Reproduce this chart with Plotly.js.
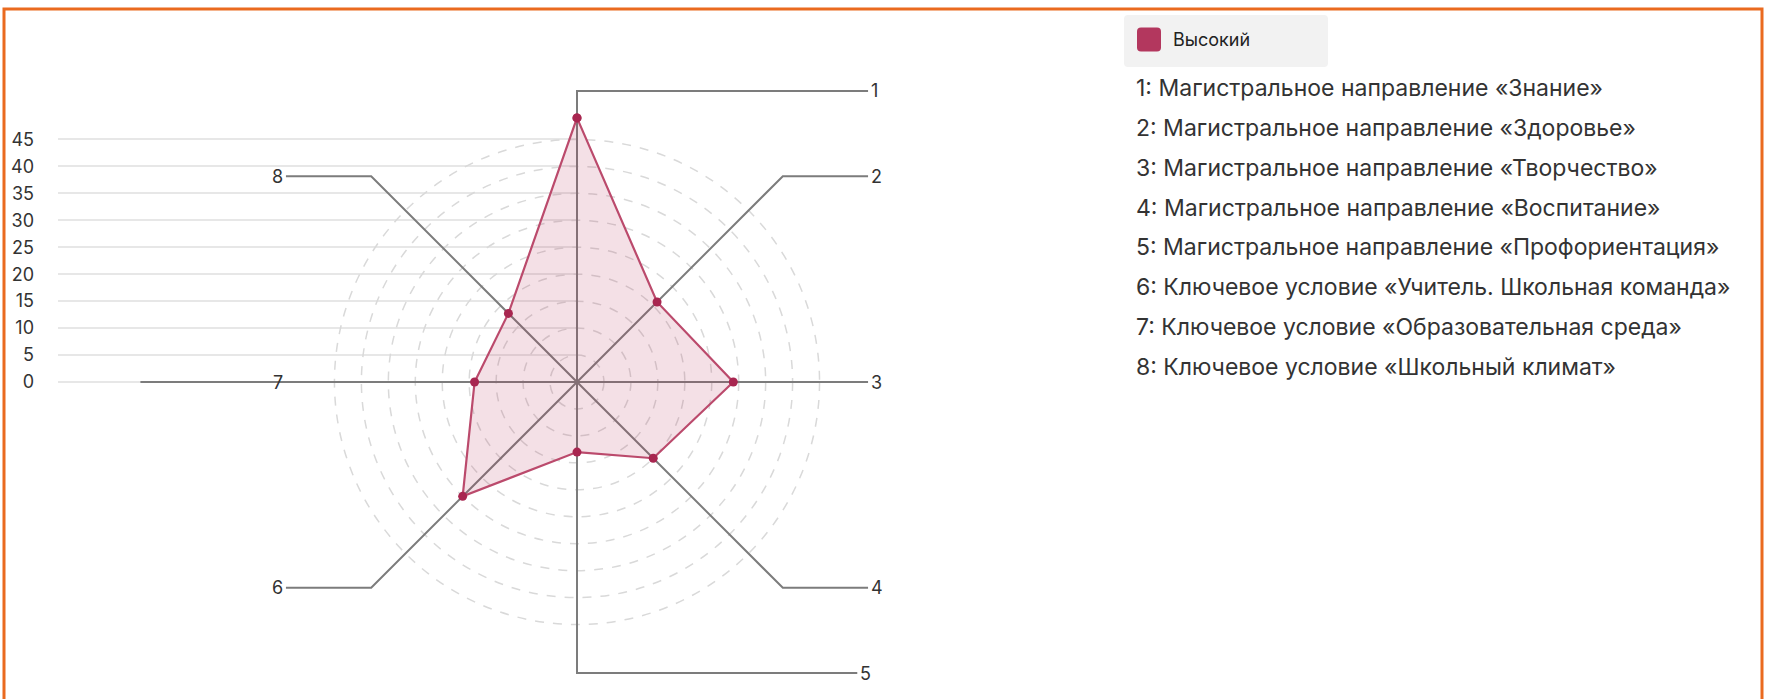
<!DOCTYPE html>
<html><head><meta charset="utf-8">
<script src="https://cdn.plot.ly/plotly-3.0.1.min.js"></script>
<style>html,body{margin:0;padding:0;background:#fff;}</style>
</head><body><div id="chart" style="width:1765px;height:699px;"></div>
<script>
// ---- data ----
const axisLabels = ['1','2','3','4','5','6','7','8'];
const categoryNames = [
  'Магистральное направление «Знание»',
  'Магистральное направление «Здоровье»',
  'Магистральное направление «Творчество»',
  'Магистральное направление «Воспитание»',
  'Магистральное направление «Профориентация»',
  'Ключевое условие «Учитель. Школьная команда»',
  'Ключевое условие «Образовательная среда»',
  'Ключевое условие «Школьный климат»'
];
const seriesName = 'Высокий';
const seriesValues = [49, 21, 29, 20, 13, 30, 19, 18];
const radialTicks = [0, 5, 10, 15, 20, 25, 30, 35, 40, 45];
const circleLevels = [5, 10, 15, 20, 25, 30, 35, 40, 45];

// ---- layout constants (pixels / units) ----
const W = 1765, H = 699, CX = 577, CY = 382, K = 5.39;
const spokeR = 54;
const leaderEnd = [54, 54, 54, 54, 52, -54, -81, -54];
const labelX = [54, 54, 54, 54, 52, -54, -54, -54];
const FONT = 'Inter, "Noto Sans", sans-serif';

const px = v => v / W;
const py = v => 1 - v / H;
const yRange = [-(H - CY) / K, CY / K];
const xRange = [-CX / K, (W - CX) / K];

const ang = i => i * Math.PI / 4;
const polarX = (r, i) => r * Math.sin(ang(i));
const polarY = (r, i) => r * Math.cos(ang(i));

// spokes with leader lines
const sx = [], sy = [];
axisLabels.forEach((lab, i) => {
  const ex = polarX(spokeR, i), ey = polarY(spokeR, i);
  sx.push(0, ex, leaderEnd[i], null);
  sy.push(0, ey, ey, null);
});

// polygon
const polyX = seriesValues.map((v, i) => polarX(v, i));
const polyY = seriesValues.map((v, i) => polarY(v, i));
polyX.push(polyX[0]); polyY.push(polyY[0]);

const traces = [
  {x: [0, 1], y: [0, 0], xaxis: 'x', yaxis: 'y', mode: 'none', showlegend: false, hoverinfo: 'skip'},
  {x: sx, y: sy, xaxis: 'x2', yaxis: 'y2', mode: 'lines',
   line: {color: '#7c7c7c', width: 2}, showlegend: false, hoverinfo: 'skip'},
  {x: polyX, y: polyY, xaxis: 'x2', yaxis: 'y2', mode: 'lines+markers', name: seriesName,
   fill: 'toself', fillcolor: 'rgba(180,50,90,0.15)',
   line: {color: '#bb4a6c', width: 2.2}, marker: {color: '#a82650', size: 9},
   showlegend: false}
];

const shapes = [];
circleLevels.forEach(r => {
  shapes.push({type: 'circle', xref: 'x2', yref: 'y2', x0: -r, x1: r, y0: -r, y1: r,
    line: {color: '#d9d9d9', width: 1.5, dash: '9px,9px'}, layer: 'below'});
});

function roundRect(x0, y0, x1, y1, r) {
  const p = (x, y) => px(x) + ',' + py(y);
  return 'M' + p(x0 + r, y0) + ' L' + p(x1 - r, y0) + ' Q' + p(x1, y0) + ' ' + p(x1, y0 + r) +
    ' L' + p(x1, y1 - r) + ' Q' + p(x1, y1) + ' ' + p(x1 - r, y1) +
    ' L' + p(x0 + r, y1) + ' Q' + p(x0, y1) + ' ' + p(x0, y1 - r) +
    ' L' + p(x0, y0 + r) + ' Q' + p(x0, y0) + ' ' + p(x0 + r, y0) + ' Z';
}
// legend box and swatch
shapes.push({type: 'path', xref: 'paper', yref: 'paper', path: roundRect(1124, 15, 1328, 67, 4),
  fillcolor: '#f2f2f2', line: {width: 0}});
shapes.push({type: 'path', xref: 'paper', yref: 'paper', path: roundRect(1137, 27.5, 1161, 51.5, 4),
  fillcolor: '#b3375e', line: {width: 0}});
// orange frame
shapes.push({type: 'rect', xref: 'paper', yref: 'paper', x0: px(4), x1: px(1762), y0: py(730), y1: py(9),
  line: {color: '#ea6a1f', width: 3}});

const annotations = [];
axisLabels.forEach((lab, i) => {
  const right = labelX[i] > 0;
  annotations.push({xref: 'x2', yref: 'y2', x: labelX[i], y: polarY(spokeR, i), text: lab,
    showarrow: false, xanchor: right ? 'left' : 'right', yanchor: 'middle', xshift: right ? 1 : -1,
    font: {family: FONT, size: 18, color: '#333'}});
});
annotations.push({xref: 'paper', yref: 'paper', x: px(1171), y: py(40), text: seriesName,
  showarrow: false, xanchor: 'left', yanchor: 'middle', font: {family: FONT, size: 18, color: '#222'}});
categoryNames.forEach((name, i) => {
  annotations.push({xref: 'paper', yref: 'paper', x: px(1134), y: py(88 + 39.86 * i),
    text: axisLabels[i] + ': ' + name, showarrow: false, xanchor: 'left', yanchor: 'middle',
    font: {family: FONT, size: 23, color: '#333'}});
});

const layout = {
  width: W, height: H, margin: {l: 0, r: 0, t: 0, b: 0},
  paper_bgcolor: '#fff', plot_bgcolor: 'rgba(0,0,0,0)',
  showlegend: false,
  xaxis: {domain: [px(58), px(CX)], range: [0, 1], visible: false, fixedrange: true},
  yaxis: {domain: [0, 1], range: yRange, anchor: 'x', tickvals: radialTicks,
    ticktext: radialTicks.map(String), showgrid: true, gridcolor: '#e7e7e7', gridwidth: 2,
    zeroline: false, showline: false, ticks: '', ticklabelstandoff: 23,
    tickfont: {family: FONT, size: 18, color: '#333'}, fixedrange: true},
  xaxis2: {domain: [0, 1], range: xRange, anchor: 'y2', visible: false, fixedrange: true},
  yaxis2: {domain: [0, 1], range: yRange, anchor: 'x2', visible: false, fixedrange: true},
  shapes: shapes, annotations: annotations,
  font: {family: FONT}
};

Plotly.newPlot('chart', traces, layout, {displayModeBar: false, staticPlot: true});
</script>
</body></html>
